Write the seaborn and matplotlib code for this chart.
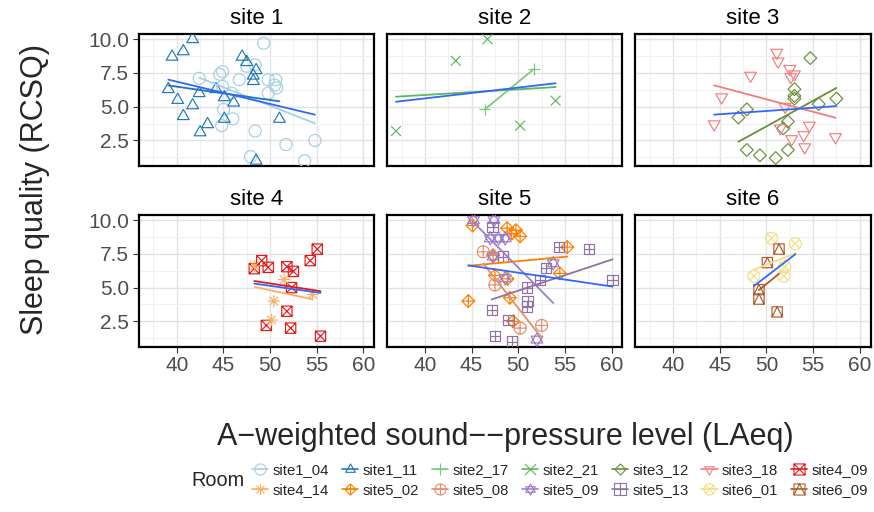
import matplotlib
matplotlib.use("Agg")
import matplotlib.pyplot as plt
from matplotlib.path import Path
from matplotlib.lines import Line2D
from matplotlib.ticker import MultipleLocator, FormatStrFormatter
import seaborn as sns
import pandas as pd
import numpy as np

# values, one pair of lists per room
site1_04_x = [49.3, 42.4, 44.6, 44.9, 46.7, 48.4, 47.5, 49.8, 50.6, 50.5, 50.7, 49.8, 45.9, 44.9, 45.0, 46.0, 44.8, 48.4, 54.8, 51.7, 47.9, 53.7]
site1_04_y = [9.7, 7.1, 7.4, 7.6, 7.0, 8.1, 8.0, 7.0, 7.0, 6.6, 6.4, 6.0, 6.0, 6.5, 4.8, 4.1, 3.6, 3.2, 2.5, 2.2, 1.3, 1.0]
site1_11_x = [41.7, 39.5, 40.7, 47.0, 47.5, 48.5, 48.2, 48.2, 39.1, 40.1, 42.4, 44.2, 45.1, 46.1, 41.7, 40.7, 43.3, 42.5, 45.1, 51.0, 48.5]
site1_11_y = [10.0, 8.7, 9.1, 8.7, 8.3, 7.7, 7.3, 6.9, 6.3, 5.5, 6.0, 6.3, 5.7, 5.3, 5.1, 4.3, 3.7, 3.1, 4.1, 4.1, 1.0]
site2_17_x = [46.4, 51.7]
site2_17_y = [4.8, 7.8]
site2_21_x = [46.7, 43.3, 54.0, 50.2, 36.9]
site2_21_y = [10.0, 8.4, 5.45, 3.6, 3.2]
site3_12_x = [54.7, 53.0, 53.0, 53.0, 55.6, 57.5, 47.9, 47.0, 52.3, 51.8, 47.9, 49.3, 51.0, 52.3]
site3_12_y = [8.6, 6.3, 5.8, 5.6, 5.2, 5.6, 4.8, 4.2, 3.9, 3.4, 1.8, 1.4, 1.2, 1.8]
site3_18_x = [51.1, 51.25, 52.5, 53.0, 52.6, 48.3, 45.2, 44.4, 52.0, 51.5, 54.6, 54.0, 52.7, 54.1, 57.4]
site3_18_y = [9.0, 8.35, 7.8, 7.4, 7.2, 7.3, 5.7, 3.7, 5.0, 3.4, 3.6, 2.9, 2.6, 2.0, 2.75]
site4_09_x = [49.1, 48.3, 49.8, 51.8, 52.5, 54.3, 55.05, 52.3, 51.8, 49.6, 52.2, 55.4]
site4_09_y = [7.0, 6.4, 6.5, 6.55, 6.2, 7.0, 7.85, 5.0, 3.25, 2.2, 2.0, 1.4]
site4_14_x = [48.35, 51.5, 54.55, 50.4, 50.15]
site4_14_y = [6.6, 5.6, 4.5, 4.0, 2.6]
site5_02_x = [45.1, 48.8, 49.75, 50.2, 49.3, 55.25, 47.3, 47.5, 48.85, 54.45, 44.65, 49.1, 49.45]
site5_02_y = [9.6, 9.4, 9.25, 8.8, 9.0, 8.0, 7.4, 5.9, 5.65, 6.05, 4.0, 4.25, 2.5]
site5_08_x = [46.25, 47.5, 50.2, 52.5]
site5_08_y = [7.65, 5.2, 2.0, 2.2]
site5_09_x = [45.2, 47.4, 47.0, 47.9, 48.6, 47.3, 53.75, 48.6, 52.0]
site5_09_y = [10.0, 10.0, 8.65, 8.65, 8.65, 7.3, 6.8, 5.7, 1.15]
site5_13_x = [47.25, 48.4, 54.4, 57.6, 53.0, 52.3, 50.9, 51.0, 50.9, 47.15, 48.95, 47.5, 49.3, 60.1]
site5_13_y = [9.5, 7.3, 8.0, 7.85, 6.45, 5.55, 5.0, 4.0, 3.6, 3.35, 2.6, 1.4, 1.0, 5.55]
site6_01_x = [50.55, 53.1, 51.95, 51.85, 48.65]
site6_01_y = [8.65, 8.25, 6.55, 5.85, 5.85]
site6_09_x = [51.35, 50.1, 49.2, 49.2, 51.15]
site6_09_y = [7.85, 6.85, 4.85, 4.15, 3.2]

rooms = ["site1_04", "site1_11", "site2_17", "site2_21", "site3_12", "site3_18", "site4_09",
         "site4_14", "site5_02", "site5_08", "site5_09", "site5_13", "site6_01", "site6_09"]
room_x = [site1_04_x, site1_11_x, site2_17_x, site2_21_x, site3_12_x, site3_18_x, site4_09_x,
          site4_14_x, site5_02_x, site5_08_x, site5_09_x, site5_13_x, site6_01_x, site6_09_x]
room_y = [site1_04_y, site1_11_y, site2_17_y, site2_21_y, site3_12_y, site3_18_y, site4_09_y,
          site4_14_y, site5_02_y, site5_08_y, site5_09_y, site5_13_y, site6_01_y, site6_09_y]
room_colors = ["#a6cee3", "#1f78b4", "#7fc97f", "#5cb85c", "#6b8e3a", "#f47c7c", "#e31a1c",
               "#fdae61", "#ff7f00", "#e0906e", "#9e7fcc", "#8f73a3", "#f3de85", "#b15928"]

frames = []
for r, xs, ys in zip(rooms, room_x, room_y):
    frames.append(pd.DataFrame({"LAeq": xs, "RCSQ": ys, "Room": r, "site": int(r[4])}))
df = pd.concat(frames, ignore_index=True)


# ggplot-like point shapes
def closed(pts):
    return Path(list(pts) + [pts[0]], [Path.MOVETO] + [Path.LINETO] * (len(pts) - 1) + [Path.CLOSEPOLY])


def seg(a, b):
    return Path([a, b], [Path.MOVETO, Path.LINETO])


def combo(*parts):
    return Path.make_compound_path(*parts)


circle = Path.unit_circle()
square = closed([(-1, -1), (1, -1), (1, 1), (-1, 1)])
tri_up = closed([(-1, -0.58), (1, -0.58), (0, 1.15)])
tri_dn = closed([(-1, 0.58), (1, 0.58), (0, -1.15)])
diamond = closed([(0, -1), (1, 0), (0, 1), (-1, 0)])
plus = combo(seg((-1, 0), (1, 0)), seg((0, -1), (0, 1)))
xcross = combo(seg((-1, -1), (1, 1)), seg((-1, 1), (1, -1)))
xsmall = combo(seg((-0.71, -0.71), (0.71, 0.71)), seg((-0.71, 0.71), (0.71, -0.71)))

shapes = [circle, tri_up, plus, xcross, diamond, tri_dn, combo(square, xcross),
          combo(plus, xsmall), combo(diamond, plus), combo(circle, plus),
          combo(tri_up, tri_dn), combo(square, plus), combo(circle, xsmall),
          combo(square, Path([(-1, -1), (0, 1), (1, -1)], [Path.MOVETO, Path.LINETO, Path.LINETO]))]
sizes = [75, 95, 70, 50, 85, 95, 55, 75, 85, 75, 95, 55, 75, 55]

sns.set_style("white")
plt.rcParams["font.family"] = ["Liberation Sans", "DejaVu Sans"]

fig, axes = plt.subplots(2, 3, figsize=(8.74, 5.12), dpi=100, sharex=True, sharey=True)
fig.subplots_adjust(left=0.159, right=0.996, bottom=0.323, top=0.934, wspace=0.055, hspace=0.371)

for i, ax in enumerate(axes.flat):
    site = i + 1
    sub = df[df["site"] == site]
    site_rooms = [k for k, r in enumerate(rooms) if int(r[4]) == site]
    for k in site_rooms:
        d = sub[sub["Room"] == rooms[k]]
        sns.scatterplot(data=d, x="LAeq", y="RCSQ", ax=ax, marker=shapes[k], s=sizes[k],
                        color=room_colors[k], facecolor="none", edgecolor=room_colors[k],
                        linewidth=0.85, legend=False, zorder=3)
    for k in site_rooms:
        d = sub[sub["Room"] == rooms[k]]
        sns.regplot(data=d, x="LAeq", y="RCSQ", ax=ax, scatter=False, ci=None,
                    color=room_colors[k], line_kws={"lw": 1.3, "zorder": 4})
    sns.regplot(data=sub, x="LAeq", y="RCSQ", ax=ax, scatter=False, ci=None,
                color="#3366ff", line_kws={"lw": 1.3, "zorder": 5})

    ax.set_xlim(35.95, 61.15)
    ax.set_ylim(0.63, 10.4)
    ax.xaxis.set_major_locator(MultipleLocator(5))
    ax.xaxis.set_minor_locator(MultipleLocator(2.5))
    ax.yaxis.set_major_locator(MultipleLocator(2.5))
    ax.yaxis.set_minor_locator(MultipleLocator(1.25))
    ax.yaxis.set_major_formatter(FormatStrFormatter("%.1f"))
    ax.grid(which="major", color="#e3e3e3", lw=1.0)
    ax.grid(which="minor", color="#f0f0f0", lw=0.7)
    ax.set_axisbelow(True)
    for sp in ax.spines.values():
        sp.set_color("black")
        sp.set_linewidth(1.6)
    ax.set_xlabel("")
    ax.set_ylabel("")
    ax.set_title(f"site {site}", fontsize=16, pad=7, color="black")
    ax.tick_params(which="major", length=4, width=0.8, color="#333333", labelsize=15,
                   labelcolor="#4d4d4d", pad=3)
    ax.tick_params(which="minor", length=0)
    ax.tick_params(left=(i % 3 == 0), bottom=(i >= 3))

fig.text(0.04, 0.63, "Sleep quality (RCSQ)", rotation=90, fontsize=22, ha="center", va="center")
fig.text(0.578, 0.147, "A\u2212weighted sound\u2212\u2212pressure level (LAeq)", fontsize=22,
         ha="center", va="center")

handles = [Line2D([0], [0], color=c, lw=1.2, marker=m, ms=8, mfc="none", mec=c, mew=0.8)
           for c, m in zip(room_colors, shapes)]
# matplotlib fills legend columns first; interleave so the rows read like the reference
order = [j for pair in zip(range(7), range(7, 14)) for j in pair]
fig.legend([handles[j] for j in order], [rooms[j] for j in order], loc="center",
           bbox_to_anchor=(0.641, 0.0625), ncol=7, frameon=False,
           fontsize=10.7, handlelength=1.1, handletextpad=0.3, columnspacing=0.85,
           labelspacing=0.4, borderaxespad=0)
fig.text(0.219, 0.0625, "Room", fontsize=14.3, ha="left", va="center")

fig.savefig("out.png", dpi=100)
